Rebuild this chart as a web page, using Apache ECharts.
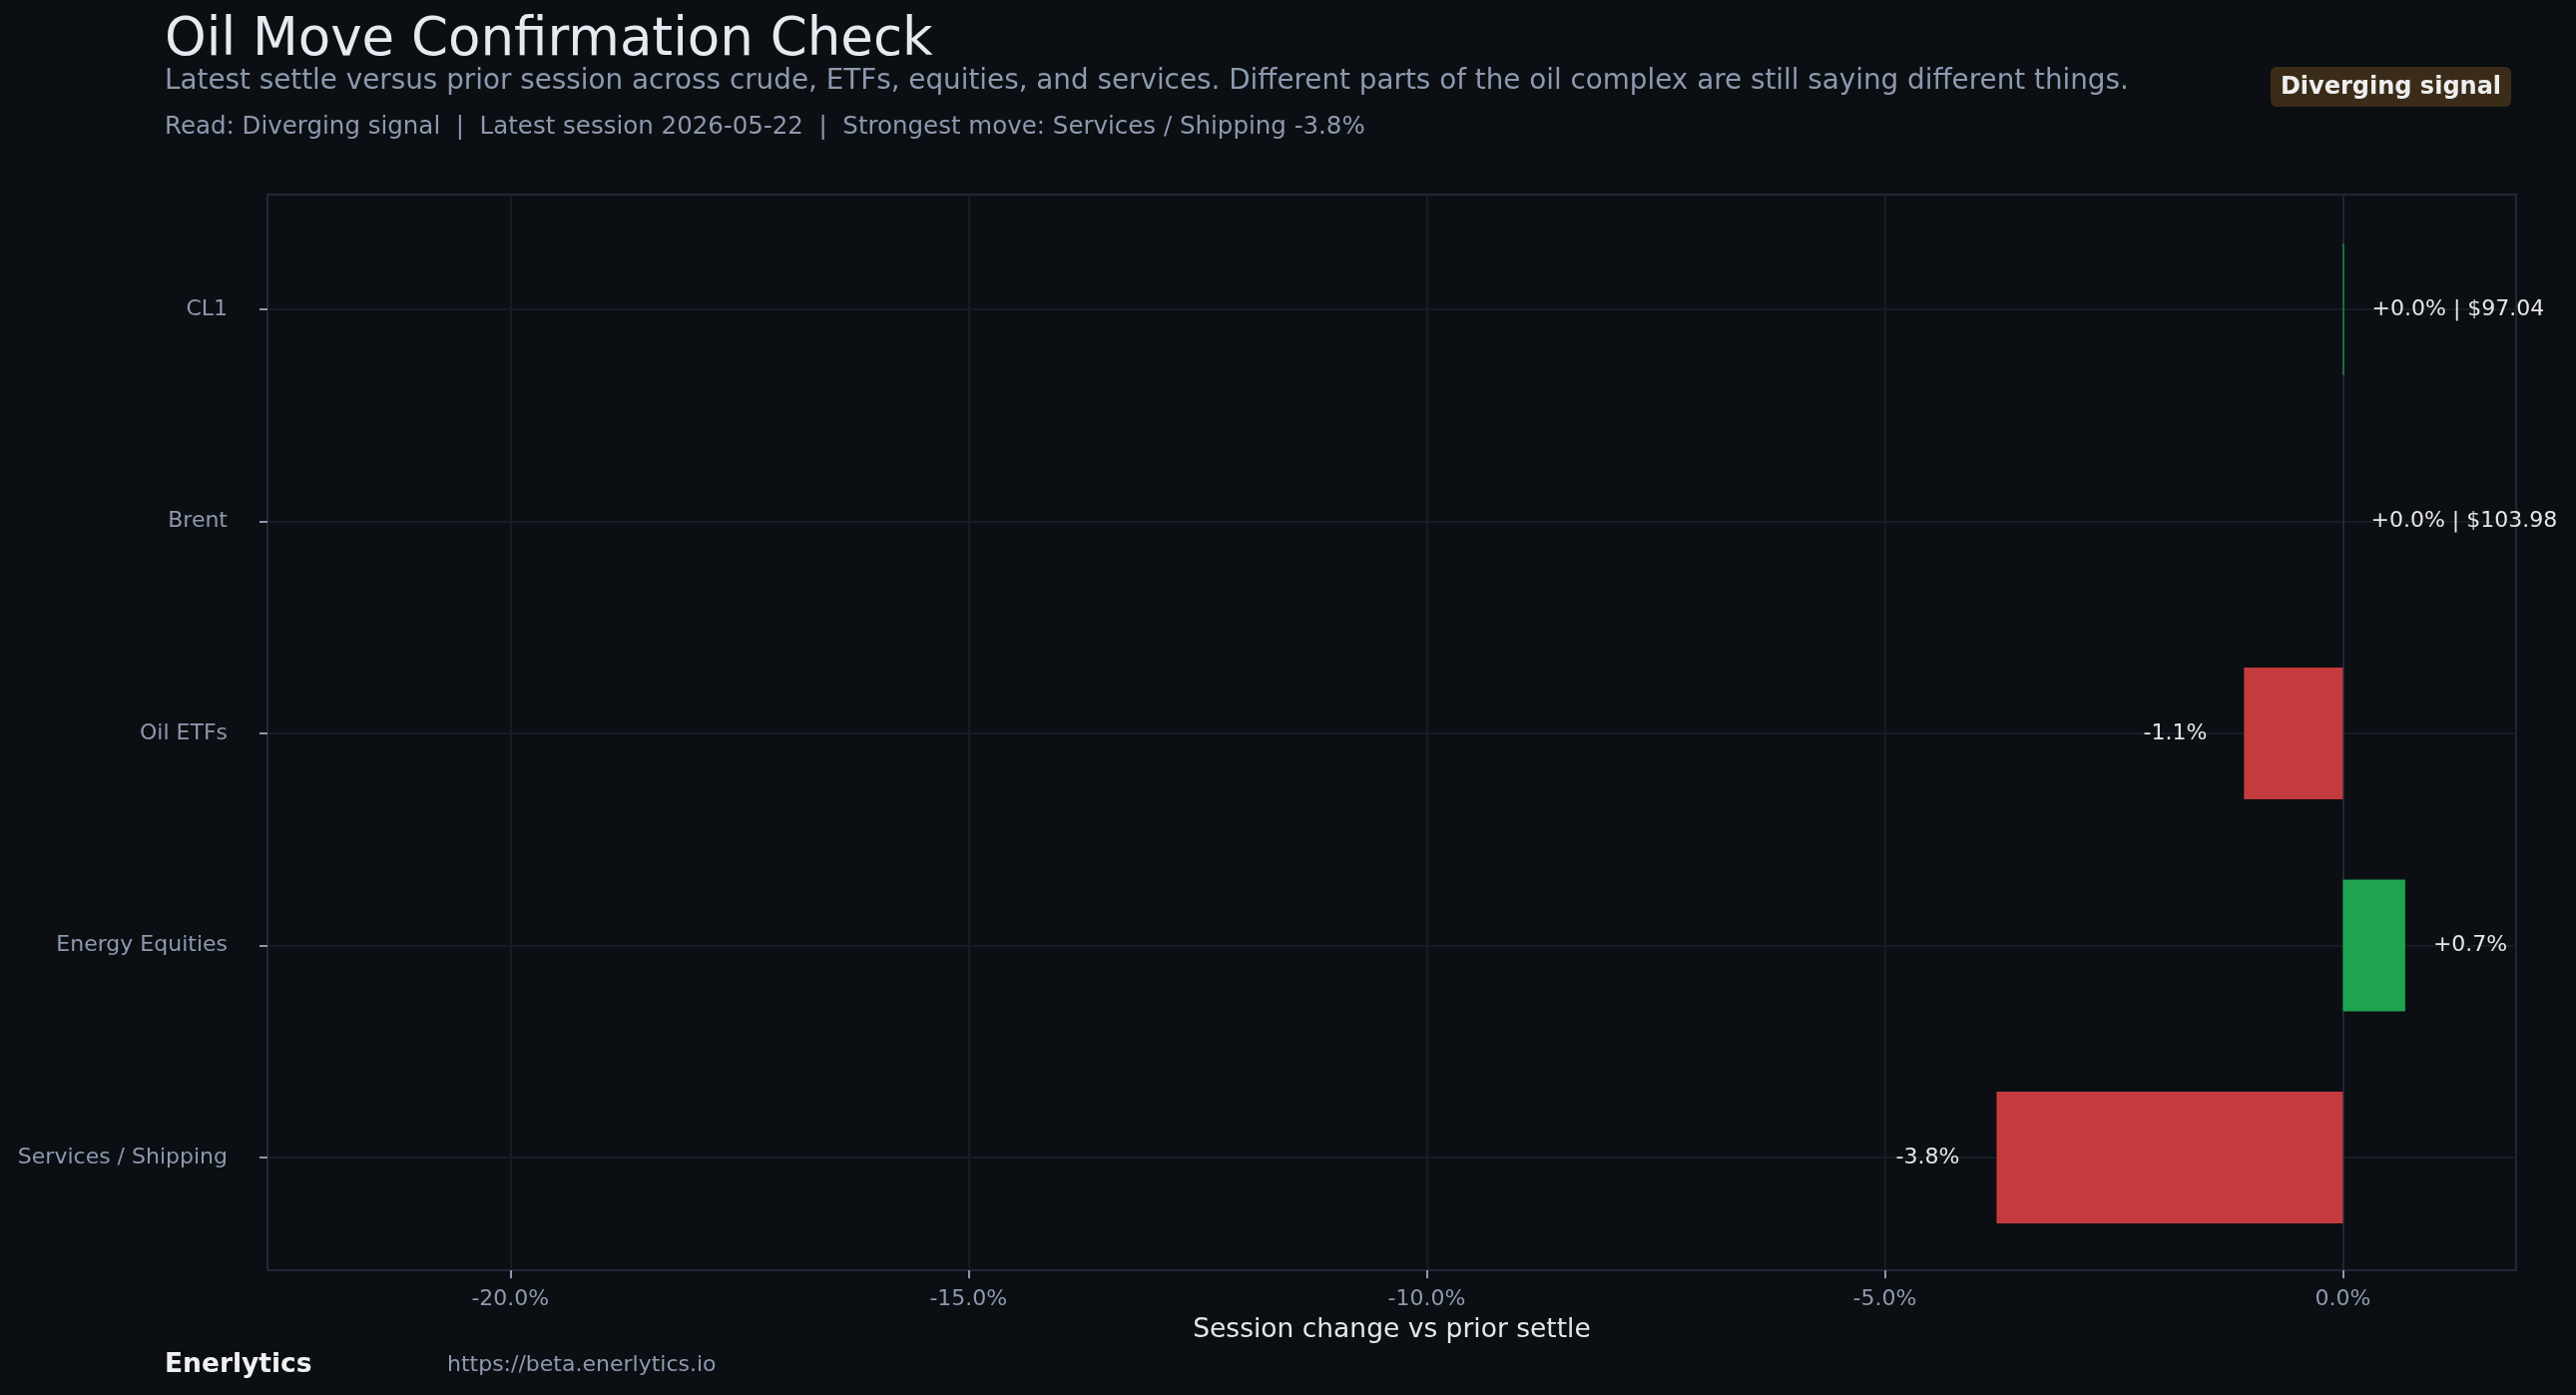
<!DOCTYPE html>
<html>
<head>
<meta charset="utf-8">
<title>Oil Move Confirmation Check</title>
<script src="https://cdn.jsdelivr.net/npm/echarts@6.0.0/dist/echarts.min.js"></script>
<style>
html, body { margin: 0; padding: 0; background: #0b0e13; }
#chart { width: 2581px; height: 1398px; }
</style>
</head>
<body>
<div id="chart"></div>
<script>
var categories = ['CL1', 'Brent', 'Oil ETFs', 'Energy Equities', 'Services / Shipping'];
var changes = [0.012, 0.0, -1.08, 0.68, -3.78];
var prices = [97.04, 103.98, null, null, null];
var xTicks = [-20, -15, -10, -5, 0];
var xRange = [-22.65, 1.89];

var UP = '#1fa34f';
var DOWN = '#c43b3e';
var MUTED = '#8d99ae';
var GRIDLINE = '#161c26';
var SPINE = '#1f2937';
var FONT = '"DejaVu Sans", sans-serif';

function fmtChange(v) {
    return (v >= 0 ? '+' : '') + v.toFixed(1) + '%';
}

var barData = changes.map(function(v) {
    var neg = v < 0;
    return {
        value: v,
        itemStyle: { color: neg ? DOWN : UP },
        label: { position: neg ? 'left' : 'right', distance: neg ? 37 : 28 }
    };
});

var chart = echarts.init(document.getElementById('chart'), null, { renderer: 'canvas' });

var option = {
    backgroundColor: '#0b0e13',
    animation: false,
    textStyle: { fontFamily: FONT },
    graphic: [
        { type: 'text', left: 165, top: 15, style: { text: 'Oil Move Confirmation Check', fill: '#e6e9ef', font: '53px ' + FONT } },
        { type: 'text', left: 165, top: 68, style: { text: 'Latest settle versus prior session across crude, ETFs, equities, and services. Different parts of the oil complex are still saying different things.', fill: MUTED, font: '27.8px ' + FONT } },
        { type: 'text', left: 165, top: 115, style: { text: 'Read: Diverging signal  |  Latest session 2026-05-22  |  Strongest move: Services / Shipping -3.8%', fill: MUTED, font: '24.5px ' + FONT } },
        { type: 'rect', shape: { x: 2275, y: 67, width: 241, height: 40, r: 6 }, style: { fill: '#3a2c18' } },
        { type: 'text', x: 2395.5, y: 88, style: { text: 'Diverging signal', fill: '#eeeeee', font: 'bold 24px ' + FONT, align: 'center', verticalAlign: 'middle' } },
        { type: 'text', left: 165, top: 1355, style: { text: 'Enerlytics', fill: '#f0f0f0', font: 'bold 26.5px ' + FONT } },
        { type: 'text', left: 448, top: 1357, style: { text: 'https://beta.enerlytics.io', fill: MUTED, font: '22px ' + FONT } }
    ],
    grid: [
        { left: 268, top: 195, width: 2253, height: 1078, show: true, borderColor: SPINE, borderWidth: 2, backgroundColor: 'transparent' },
        { left: 268, top: 310, width: 2253, height: 850 }
    ],
    xAxis: [
        {
            gridIndex: 0,
            type: 'value',
            min: xRange[0],
            max: xRange[1],
            axisLine: { show: false },
            axisTick: { show: true, length: 8, customValues: xTicks, lineStyle: { color: MUTED, width: 2 } },
            axisLabel: {
                customValues: xTicks,
                margin: 18,
                color: MUTED,
                fontSize: 22,
                fontFamily: FONT,
                formatter: function(v) { return v.toFixed(1) + '%'; }
            },
            splitLine: { show: true, lineStyle: { color: GRIDLINE, width: 2 } },
            name: 'Session change vs prior settle',
            nameLocation: 'middle',
            nameGap: 47,
            nameTextStyle: { color: '#e4e6ea', fontSize: 26.5, fontFamily: FONT }
        },
        { gridIndex: 1, type: 'value', min: xRange[0], max: xRange[1], show: false }
    ],
    yAxis: [
        {
            gridIndex: 0,
            type: 'value',
            min: 0,
            max: 1,
            axisLine: { show: true, onZero: true, lineStyle: { color: SPINE, width: 2 } },
            axisTick: { show: false },
            axisLabel: { show: false },
            splitLine: { show: false }
        },
        {
            gridIndex: 1,
            type: 'category',
            data: categories,
            inverse: true,
            boundaryGap: false,
            axisLine: { show: false, onZero: false },
            axisTick: { show: true, length: 8, interval: 0, lineStyle: { color: MUTED, width: 2 } },
            axisLabel: { margin: 40, interval: 0, color: MUTED, fontSize: 22, fontFamily: FONT },
            splitLine: { show: true, interval: 0, lineStyle: { color: GRIDLINE, width: 2 } }
        }
    ],
    series: [
        {
            type: 'bar',
            xAxisIndex: 1,
            yAxisIndex: 1,
            barWidth: 132,
            data: barData,
            label: {
                show: true,
                color: '#e6e6e6',
                fontSize: 22,
                fontFamily: FONT,
                formatter: function(p) {
                    var t = fmtChange(p.value);
                    if (prices[p.dataIndex] != null) {
                        t += ' | $' + prices[p.dataIndex].toFixed(2);
                    }
                    return t;
                }
            }
        }
    ]
};

chart.setOption(option);
</script>
</body>
</html>
